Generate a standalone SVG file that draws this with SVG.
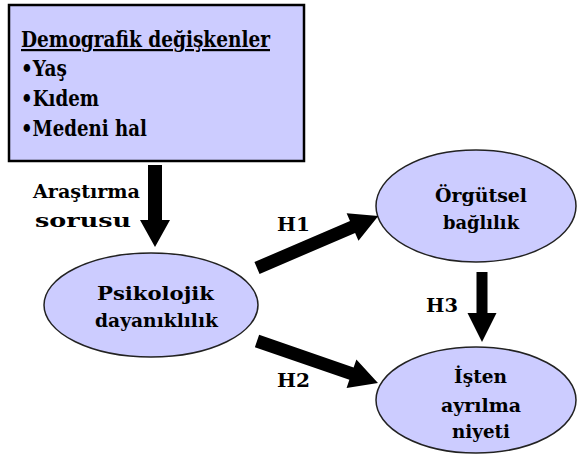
<svg xmlns="http://www.w3.org/2000/svg" width="577" height="460" viewBox="0 0 577 460">
  <style>
    .box { fill: #ccccff; stroke: #000; stroke-width: 2.5; }
    .node { fill: #ccccff; stroke: #222; stroke-width: 1.5; }
    .arrow { fill: #000; }
    .lbl { font-family: "DejaVu Serif", "Liberation Serif", "Times New Roman", Times, serif; font-weight: 700; fill: #000; }
  </style>
  <rect width="577" height="460" fill="#fff"/>

  <g id="demografik">
    <rect class="box" x="9" y="5" width="295" height="156"/>
    <text class="lbl" font-size="22" x="21" y="47" text-decoration="underline" textLength="249" lengthAdjust="spacingAndGlyphs">Demografik değişkenler</text>
    <text class="lbl" font-size="22" x="21" y="76" textLength="46" lengthAdjust="spacingAndGlyphs">•Yaş</text>
    <text class="lbl" font-size="22" x="21" y="106" textLength="78" lengthAdjust="spacingAndGlyphs">•Kıdem</text>
    <text class="lbl" font-size="22" x="21" y="136" textLength="126" lengthAdjust="spacingAndGlyphs">•Medeni hal</text>
  </g>

  <g id="psikolojik">
    <ellipse class="node" cx="151" cy="305" rx="107" ry="52"/>
    <text class="lbl" font-size="19" x="97" y="300" textLength="117" lengthAdjust="spacingAndGlyphs">Psikolojik</text>
    <text class="lbl" font-size="19" x="95" y="327" textLength="123" lengthAdjust="spacingAndGlyphs">dayanıklılık</text>
  </g>

  <g id="orgutsel">
    <ellipse class="node" cx="476" cy="206" rx="100" ry="56"/>
    <text class="lbl" font-size="19" x="435" y="202" textLength="92" lengthAdjust="spacingAndGlyphs">Örgütsel</text>
    <text class="lbl" font-size="19" x="443" y="229" textLength="76" lengthAdjust="spacingAndGlyphs">bağlılık</text>
  </g>

  <g id="isten">
    <ellipse class="node" cx="476" cy="400" rx="100" ry="53"/>
    <text class="lbl" font-size="19" x="454" y="383" textLength="53" lengthAdjust="spacingAndGlyphs">İşten</text>
    <text class="lbl" font-size="19" x="441" y="412" textLength="80" lengthAdjust="spacingAndGlyphs">ayrılma</text>
    <text class="lbl" font-size="19" x="452" y="438" textLength="58" lengthAdjust="spacingAndGlyphs">niyeti</text>
  </g>

  <g id="connectors">
    <!-- research question arrow -->
    <path class="arrow" transform="translate(155,165) rotate(90)" d="M0,-7 L55,-7 L55,-15 L82,0 L55,15 L55,7 L0,7 Z"/>
    <text class="lbl" font-size="19" x="33" y="198" textLength="107" lengthAdjust="spacingAndGlyphs">Araştırma</text>
    <text class="lbl" font-size="19" x="35" y="227" textLength="96" lengthAdjust="spacingAndGlyphs">sorusu</text>
    <!-- H1 -->
    <path class="arrow" transform="translate(257,268) rotate(-23.25)" d="M0,-6.5 L104,-6.5 L104,-15 L132,0 L104,15 L104,6.5 L0,6.5 Z"/>
    <text class="lbl" font-size="19" x="277" y="231" textLength="33" lengthAdjust="spacingAndGlyphs">H1</text>
    <!-- H2 -->
    <path class="arrow" transform="translate(257,341) rotate(19.1)" d="M0,-6.5 L100,-6.5 L100,-15 L128,0 L100,15 L100,6.5 L0,6.5 Z"/>
    <text class="lbl" font-size="19" x="277" y="387" textLength="33" lengthAdjust="spacingAndGlyphs">H2</text>
    <!-- H3 -->
    <path class="arrow" transform="translate(482,272) rotate(90)" d="M0,-5.5 L41,-5.5 L41,-14.5 L70,0 L41,14.5 L41,5.5 L0,5.5 Z"/>
    <text class="lbl" font-size="19" x="426" y="312" textLength="32" lengthAdjust="spacingAndGlyphs">H3</text>
  </g>
</svg>
